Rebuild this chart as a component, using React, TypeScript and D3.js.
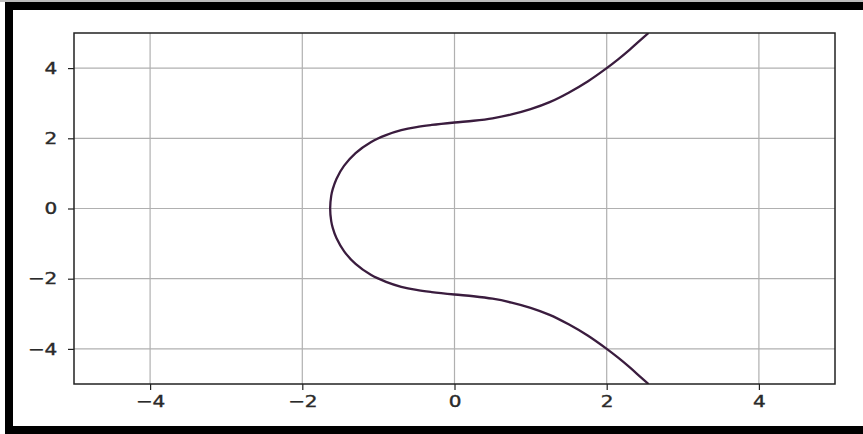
import { useEffect, useRef } from "react";
import * as d3 from "d3";

// points, along the curve from the bottom end to the top end
const curveX = [2.55, 2.45, 2.3, 2.15, 2.0, 1.75, 1.5, 1.25, 1.0, 0.75, 0.5, 0.25, 0.0, -0.3, -0.5, -0.7, -0.9, -1.1, -1.3, -1.45, -1.55, -1.6, -1.62, -1.634,
  -1.62, -1.6, -1.55, -1.45, -1.3, -1.1, -0.9, -0.7, -0.5, -0.3, 0.0, 0.25, 0.5, 0.75, 1.0, 1.25, 1.5, 1.75, 2.0, 2.15, 2.3, 2.45, 2.55];
const curveY = [-5.0, -4.81, -4.52, -4.25, -4.0, -3.62, -3.3, -3.03, -2.83, -2.68, -2.57, -2.5, -2.45, -2.38, -2.32, -2.23, -2.09, -1.89, -1.58, -1.22, -0.85, -0.55, -0.36, 0,
  0.36, 0.55, 0.85, 1.22, 1.58, 1.89, 2.09, 2.23, 2.32, 2.38, 2.45, 2.5, 2.57, 2.68, 2.83, 3.03, 3.3, 3.62, 4.0, 4.25, 4.52, 4.81, 5.0];

const xTicks = [-4, -2, 0, 2, 4];
const yTicks = [-4, -2, 0, 2, 4];

export default function App() {
  const svgRef = useRef<SVGSVGElement>(null);

  useEffect(() => {
    if (!svgRef.current) return;
    const svg = d3.select(svgRef.current);
    svg.selectAll("*").remove();

    const W = 863, H = 434;
    const plot = { left: 74, right: 835, top: 33, bottom: 384 };

    // screenshot frame
    svg.append("rect").attr("width", W).attr("height", H).attr("fill", "#fff");
    svg.append("rect").attr("x", 0).attr("y", 0).attr("width", W).attr("height", 2).attr("fill", "#bdbdbd");
    svg.append("rect").attr("x", 5).attr("y", 2).attr("width", W - 5).attr("height", 8).attr("fill", "#000");
    svg.append("rect").attr("x", 5).attr("y", 2).attr("width", 8).attr("height", H - 2).attr("fill", "#000");
    svg.append("rect").attr("x", 5).attr("y", 426).attr("width", W - 5).attr("height", 8).attr("fill", "#000");

    const x = d3.scaleLinear().domain([-5, 5]).range([plot.left, plot.right]);
    const y = d3.scaleLinear().domain([-5, 5]).range([plot.bottom, plot.top]);

    const g = svg.append("g");

    // grid
    g.selectAll(".vgrid").data(xTicks).enter().append("line")
      .attr("x1", d => x(d)).attr("x2", d => x(d))
      .attr("y1", plot.top).attr("y2", plot.bottom)
      .attr("stroke", "#b0b0b0").attr("stroke-width", 1.2);
    g.selectAll(".hgrid").data(yTicks).enter().append("line")
      .attr("y1", d => y(d)).attr("y2", d => y(d))
      .attr("x1", plot.left).attr("x2", plot.right)
      .attr("stroke", "#b0b0b0").attr("stroke-width", 1.2);

    // curve, clipped to the axes
    svg.append("defs").append("clipPath").attr("id", "plot-clip")
      .append("rect")
      .attr("x", plot.left).attr("y", plot.top)
      .attr("width", plot.right - plot.left).attr("height", plot.bottom - plot.top);

    const pts = curveX.map((d, i) => [d, curveY[i]] as [number, number]);
    const line = d3.line<[number, number]>()
      .x(d => x(d[0]))
      .y(d => y(d[1]))
      .curve(d3.curveCatmullRom.alpha(0.5));

    g.append("path")
      .datum(pts)
      .attr("clip-path", "url(#plot-clip)")
      .attr("fill", "none")
      .attr("stroke", "#3a1c3e")
      .attr("stroke-width", 2.3)
      .attr("d", line);

    const fmt = (d: d3.NumberValue) => String(d).replace("-", "\u2212");

    // axes
    const xAxis = g.append("g")
      .attr("transform", `translate(0,${plot.bottom})`)
      .call(d3.axisBottom(x).tickValues(xTicks).tickSize(6).tickPadding(6).tickFormat(fmt));
    const yAxis = g.append("g")
      .attr("transform", `translate(${plot.left},0)`)
      .call(d3.axisLeft(y).tickValues(yTicks).tickSize(6).tickPadding(7.5).tickFormat(fmt));

    // the reference text is a little stretched sideways and heavy
    [xAxis, yAxis].forEach(a => {
      a.select(".domain").remove();
      a.selectAll(".tick line").attr("stroke", "#222").attr("stroke-width", 1.2);
      a.selectAll(".tick text")
        .attr("fill", "#2a2a2a")
        .attr("stroke", "#2a2a2a")
        .attr("stroke-width", 0.4)
        .attr("transform", "scale(1.25,1)")
        .style("font-family", "'DejaVu Sans', sans-serif")
        .style("font-size", "16px");
    });

    // spines
    g.append("rect")
      .attr("x", plot.left).attr("y", plot.top)
      .attr("width", plot.right - plot.left).attr("height", plot.bottom - plot.top)
      .attr("fill", "none").attr("stroke", "#222").attr("stroke-width", 1.5);
  }, []);

  return (
    <svg
      ref={svgRef}
      width={863}
      height={434}
      style={{ position: "absolute", left: 0, top: 0 }}
    />
  );
}
